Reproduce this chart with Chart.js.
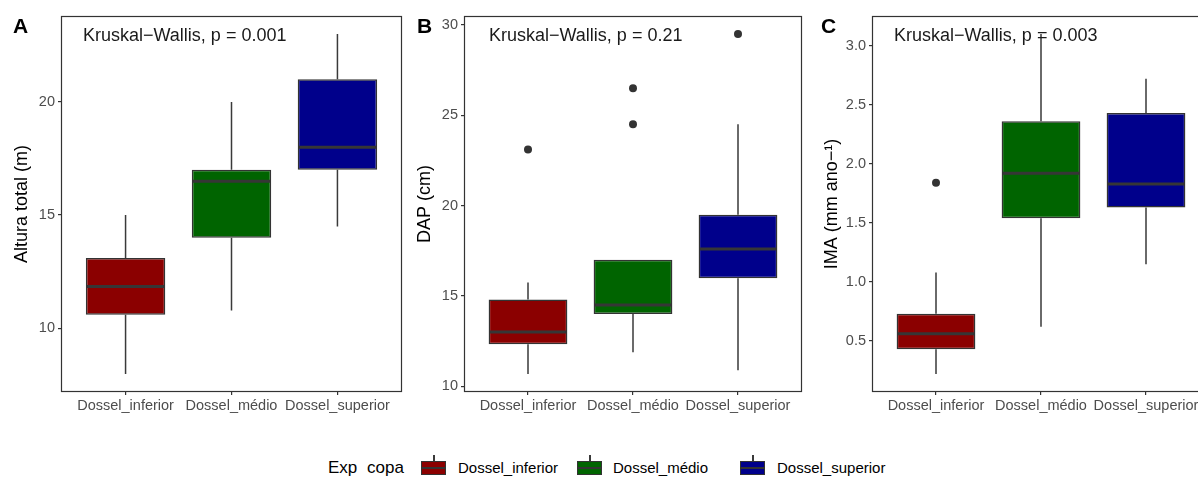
<!DOCTYPE html>
<html>
<head>
<meta charset="utf-8">
<script src="https://cdn.jsdelivr.net/npm/chart.js@4.4.1/dist/chart.umd.min.js"></script>
<style>
  html, body { margin: 0; padding: 0; background: #fff; }
  body { position: relative; width: 1198px; height: 477px; overflow: hidden; font-family: "Liberation Sans", Arial, sans-serif; }
  .painel { position: absolute; top: 0; height: 430px; }
  .legenda-titulo { position: absolute; top: 459px; font-size: 17px; line-height: 17px; color: #000; word-spacing: 5px; }
  .legenda-texto { position: absolute; top: 460px; font-size: 15px; line-height: 15px; color: #000; }
  .chave { position: absolute; top: 455px; width: 25px; height: 20px; }
  .chave .bigode { position: absolute; left: 12px; top: 0; width: 1.5px; height: 6px; background: #3a3a3a; }
  .chave .caixa { position: absolute; left: 0; top: 6px; width: 23px; height: 12px; border: 1px solid #333; }
  .chave .mediana { position: absolute; left: 0; top: 5px; width: 23px; height: 2px; background: #333; }
</style>
</head>
<body>
<div class="painel" style="left:0px;width:404px"><canvas id="graficoA"></canvas></div>
<div class="painel" style="left:405px;width:400px"><canvas id="graficoB"></canvas></div>
<div class="painel" style="left:808px;width:405px"><canvas id="graficoC"></canvas></div>
<div id="legenda"></div>

<script>
const categorias = ["Dossel_inferior", "Dossel_médio", "Dossel_superior"];
const cores = ["#8B0000", "#006400", "#00008B"];

// A - Altura total (m)
const alturaMin = [7.98, 10.78, 14.5];
const alturaQ1 = [10.6, 14.0, 17.0];
const alturaMediana = [11.85, 16.5, 18.0];
const alturaQ3 = [13.1, 17.0, 21.0];
const alturaMax = [15.0, 20.0, 23.0];
const alturaOutliers = [[], [], []];
const alturaTicks = [10, 15, 20];

// B - DAP (cm)
const dapMin = [10.68, 11.88, 10.89];
const dapQ1 = [12.33, 14.0, 15.98];
const dapMediana = [13.0, 14.5, 17.6];
const dapQ3 = [14.8, 17.0, 19.5];
const dapMax = [15.75, 17.0, 24.5];
const dapOutliers = [[23.1], [24.5, 26.5], [29.5]];
const dapTicks = [10, 15, 20, 25, 30];

// C - IMA (mm ano-1)
const imaMin = [0.22, 0.62, 1.15];
const imaQ1 = [0.43, 1.54, 1.63];
const imaMediana = [0.56, 1.92, 1.83];
const imaQ3 = [0.73, 2.36, 2.43];
const imaMax = [1.08, 3.1, 2.72];
const imaOutliers = [[1.84], [], []];
const imaTicks = [0.5, 1.0, 1.5, 2.0, 2.5, 3.0];

Chart.defaults.font.family = "'Liberation Sans', Arial, sans-serif";

// whiskers under the boxes, median lines and frame on top
const boxplotPlugin = {
  id: "boxplot",
  beforeDatasetsDraw(chart, args, opts) {
    const { ctx, scales: { x, y } } = chart;
    ctx.save();
    ctx.strokeStyle = "#3a3a3a";
    ctx.lineWidth = 1.5;
    opts.min.forEach((v, i) => {
      const cx = x.getPixelForValue(i + 1);
      ctx.beginPath();
      ctx.moveTo(cx, y.getPixelForValue(opts.min[i]));
      ctx.lineTo(cx, y.getPixelForValue(opts.q1[i]));
      ctx.moveTo(cx, y.getPixelForValue(opts.q3[i]));
      ctx.lineTo(cx, y.getPixelForValue(opts.max[i]));
      ctx.stroke();
    });
    ctx.restore();
  },
  afterDatasetsDraw(chart, args, opts) {
    const { ctx, scales: { y }, chartArea } = chart;
    const meta = chart.getDatasetMeta(0);
    ctx.save();
    ctx.strokeStyle = "#363636";
    ctx.lineWidth = 3;
    meta.data.forEach((bar, i) => {
      const my = y.getPixelForValue(opts.mediana[i]);
      ctx.beginPath();
      ctx.moveTo(bar.x - bar.width / 2 + 1, my);
      ctx.lineTo(bar.x + bar.width / 2 - 1, my);
      ctx.stroke();
    });
    // Kruskal-Wallis label
    ctx.fillStyle = "#1a1a1a";
    ctx.font = "18px 'Liberation Sans', Arial, sans-serif";
    ctx.textBaseline = "alphabetic";
    ctx.fillText(opts.texto, chartArea.left + opts.textoX, 41);
    // panel frame
    ctx.strokeStyle = "#333333";
    ctx.lineWidth = 1.2;
    ctx.strokeRect(chartArea.left - 0.5, chartArea.top - 0.5, chartArea.right - chartArea.left + 1, chartArea.bottom - chartArea.top + 1);
    // panel letter
    ctx.fillStyle = "#000";
    ctx.font = "bold 21px 'Liberation Sans', Arial, sans-serif";
    ctx.fillText(opts.letra, opts.letraX, 33);
    ctx.restore();
  }
};

function criarPainel(id, cfg) {
  const ctx = document.getElementById(id).getContext("2d");
  const todos = cfg.min.concat(cfg.max, ...cfg.outliers);
  const lo = Math.min(...todos), hi = Math.max(...todos);
  const exp = (hi - lo) * 0.05;

  const pontos = [];
  cfg.outliers.forEach((lista, i) => lista.forEach(v => pontos.push({ x: i + 1, y: v })));

  return new Chart(ctx, {
    type: "bar",
    data: {
      datasets: [{
        type: "bar",
        data: categorias.map((c, i) => ({ x: i + 1, y: [cfg.q1[i], cfg.q3[i]] })),
        backgroundColor: cores,
        borderColor: "#333333",
        borderWidth: 1.5,
        borderSkipped: false,
        barPercentage: 0.75,
        categoryPercentage: 1
      }, {
        type: "scatter",
        data: pontos,
        pointRadius: 4,
        pointBackgroundColor: "#333333",
        pointBorderWidth: 0
      }]
    },
    options: {
      responsive: true,
      maintainAspectRatio: false,
      animation: false,
      layout: { padding: { top: 17, right: 3, left: 0, bottom: 0 } },
      plugins: {
        legend: { display: false },
        tooltip: { enabled: false },
        boxplot: {
          min: cfg.min, q1: cfg.q1, mediana: cfg.mediana, q3: cfg.q3, max: cfg.max,
          texto: cfg.texto, textoX: cfg.textoX, letra: cfg.letra, letraX: cfg.letraX
        }
      },
      scales: {
        x: {
          type: "linear",
          min: 0.4,
          max: 3.6,
          offset: false,
          afterBuildTicks: s => { s.ticks = categorias.map((c, i) => ({ value: i + 1 })); },
          afterFit: s => { s.height = 39; },
          border: { display: false },
          grid: { offset: false, drawOnChartArea: false, drawTicks: true, tickLength: 4, color: "#333333", lineWidth: 1.2 },
          ticks: {
            color: "#4D4D4D",
            font: { size: 14.5 },
            padding: 2,
            maxRotation: 0,
            autoSkip: false,
            callback: (v, i) => categorias[i]
          }
        },
        y: {
          type: "linear",
          min: lo - exp,
          max: hi + exp,
          afterBuildTicks: s => { s.ticks = cfg.ticks.map(v => ({ value: v })); },
          afterFit: s => { s.width = cfg.eixoLargura; },
          border: { display: false },
          grid: { drawOnChartArea: false, drawTicks: true, tickLength: 4, color: "#333333", lineWidth: 1.2 },
          ticks: {
            color: "#4D4D4D",
            font: { size: 14.5 },
            padding: 3,
            callback: v => cfg.decimais ? v.toFixed(cfg.decimais) : String(v)
          },
          title: {
            display: true,
            text: cfg.titulo,
            color: "#000",
            font: { size: 18 },
            padding: { top: cfg.tituloPad, bottom: 0 }
          }
        }
      }
    },
    plugins: [boxplotPlugin]
  });
}

criarPainel("graficoA", {
  min: alturaMin, q1: alturaQ1, mediana: alturaMediana, q3: alturaQ3, max: alturaMax,
  outliers: alturaOutliers, ticks: alturaTicks, decimais: 0,
  titulo: "Altura total (m)", texto: "Kruskal\u2212Wallis, p = 0.001",
  letra: "A", letraX: 13, textoX: 21, eixoLargura: 62, tituloPad: 11
});

criarPainel("graficoB", {
  min: dapMin, q1: dapQ1, mediana: dapMediana, q3: dapQ3, max: dapMax,
  outliers: dapOutliers, ticks: dapTicks, decimais: 0,
  titulo: "DAP (cm)", texto: "Kruskal\u2212Wallis, p = 0.21",
  letra: "B", letraX: 12, textoX: 24, eixoLargura: 60, tituloPad: 9
});

criarPainel("graficoC", {
  min: imaMin, q1: imaQ1, mediana: imaMediana, q3: imaQ3, max: imaMax,
  outliers: imaOutliers, ticks: imaTicks, decimais: 1,
  titulo: "IMA (mm ano\u2212\u00b9)", texto: "Kruskal\u2212Wallis, p = 0.003",
  letra: "C", letraX: 13, textoX: 21, eixoLargura: 65, tituloPad: 13
});

// legenda comum
const legenda = document.getElementById("legenda");
const chaveX = [421, 577, 740];
const textoX = [458, 613, 777];
let html = '<span class="legenda-titulo" style="left:328px">Exp copa</span>';
categorias.forEach((c, i) => {
  html += '<div class="chave" style="left:' + chaveX[i] + 'px">' +
    '<div class="bigode"></div>' +
    '<div class="caixa" style="background:' + cores[i] + '"><div class="mediana"></div></div></div>' +
    '<span class="legenda-texto" style="left:' + textoX[i] + 'px">' + c + '</span>';
});
legenda.innerHTML = html;
</script>
</body>
</html>
